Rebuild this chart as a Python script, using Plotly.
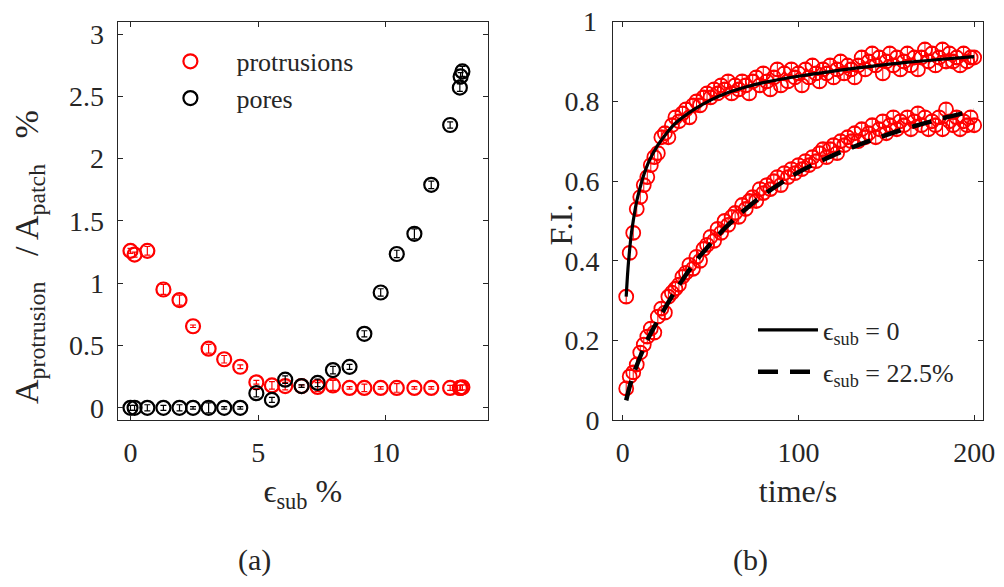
import plotly.graph_objects as go

# ---------------- panel (a) data ----------------
eps_sub = [0.0, 0.16, 0.66, 1.29, 1.92, 2.45, 3.06, 3.67, 4.30, 4.93, 5.54, 6.06, 6.70,
           7.33, 7.93, 8.58, 9.16, 9.80, 10.43, 11.12, 11.78, 12.52, 12.90, 12.93, 13.00]
protrusions = [1.26, 1.23, 1.26, 0.95, 0.865, 0.655, 0.475, 0.39, 0.33, 0.205, 0.18, 0.175, 0.175,
               0.168, 0.18, 0.16, 0.16, 0.16, 0.16, 0.16, 0.16, 0.16, 0.16, 0.16, 0.165]
protrusions_err = [0.02, 0.02, 0.035, 0.04, 0.04, 0.01, 0.035, 0.03, 0.015, 0.015, 0.03, 0.03, 0.01,
                   0.035, 0.04, 0.01, 0.03, 0.01, 0.035, 0.01, 0.01, 0.02, 0.02, 0.02, 0.02]
pores = [0.0, 0.0, 0.0, 0.0, 0.0, 0.0, 0.0, 0.0, 0.0, 0.118, 0.064, 0.226, 0.175,
         0.20, 0.303, 0.329, 0.594, 0.926, 1.235, 1.397, 1.79, 2.27, 2.57, 2.66, 2.70]
pores_err = [0.02, 0.02, 0.025, 0.02, 0.025, 0.01, 0.04, 0.01, 0.01, 0.03, 0.02, 0.03, 0.01,
             0.03, 0.03, 0.02, 0.025, 0.03, 0.03, 0.04, 0.03, 0.025, 0.03, 0.03, 0.04]

# ---------------- panel (b) data ----------------
time_s = list(range(2, 202, 2))
fi_eps0 = [0.31, 0.42, 0.47, 0.53, 0.56, 0.59, 0.61, 0.64, 0.66, 0.67,
           0.71, 0.72, 0.71, 0.74, 0.76, 0.75, 0.77, 0.78, 0.76, 0.79,
           0.80, 0.79, 0.81, 0.82, 0.81, 0.83, 0.82, 0.84, 0.83, 0.85,
           0.82, 0.84, 0.83, 0.85, 0.84, 0.82, 0.85, 0.86, 0.84, 0.87,
           0.85, 0.83, 0.86, 0.88, 0.84, 0.87, 0.85, 0.88, 0.86, 0.87,
           0.84, 0.88, 0.86, 0.89, 0.87, 0.85, 0.88, 0.87, 0.89, 0.86,
           0.88, 0.90, 0.87, 0.89, 0.88, 0.86, 0.89, 0.91, 0.88, 0.90,
           0.92, 0.89, 0.91, 0.87, 0.90, 0.92, 0.89, 0.91, 0.88, 0.90,
           0.92, 0.89, 0.91, 0.88, 0.91, 0.93, 0.90, 0.92, 0.89, 0.91,
           0.93, 0.90, 0.92, 0.90, 0.91, 0.89, 0.92, 0.90, 0.91, 0.91]
fi_eps225 = [0.08, 0.11, 0.12, 0.14, 0.17, 0.19, 0.21, 0.23, 0.22, 0.26,
             0.28, 0.27, 0.31, 0.32, 0.33, 0.34, 0.36, 0.37, 0.39, 0.38,
             0.41, 0.40, 0.43, 0.44, 0.46, 0.45, 0.48, 0.47, 0.50, 0.49,
             0.51, 0.52, 0.51, 0.54, 0.53, 0.55, 0.56, 0.55, 0.58, 0.57,
             0.59, 0.58, 0.60, 0.61, 0.59, 0.62, 0.61, 0.63, 0.62, 0.64,
             0.63, 0.65, 0.64, 0.66, 0.65, 0.67, 0.68, 0.66, 0.68, 0.69,
             0.67, 0.70, 0.69, 0.71, 0.70, 0.72, 0.70, 0.73, 0.71, 0.72,
             0.74, 0.71, 0.73, 0.75, 0.72, 0.74, 0.76, 0.73, 0.75, 0.74,
             0.76, 0.73, 0.75, 0.77, 0.74, 0.76, 0.73, 0.75, 0.74, 0.76,
             0.73, 0.78, 0.75, 0.74, 0.76, 0.73, 0.75, 0.74, 0.76, 0.74]
fi_err = 0.015

fit_t_eps0 = [2, 3, 4, 5, 6, 8, 10, 12, 15, 20, 25, 30, 40, 50, 60, 70, 80, 100, 120, 140, 160, 180, 200]
fit_eps0 = [0.31, 0.38, 0.43, 0.47, 0.50, 0.55, 0.585, 0.615, 0.65, 0.69, 0.72, 0.745, 0.778, 0.803,
            0.822, 0.836, 0.847, 0.863, 0.876, 0.887, 0.897, 0.905, 0.912]
fit_t_eps225 = [2, 5, 10, 15, 20, 30, 40, 50, 60, 70, 80, 90, 100, 120, 140, 160, 180, 200]
fit_eps225 = [0.05, 0.10, 0.16, 0.21, 0.25, 0.325, 0.39, 0.443, 0.49, 0.53, 0.565, 0.595, 0.622,
              0.665, 0.70, 0.73, 0.755, 0.777]
fi_ticks = [0, 0.2, 0.4, 0.6, 0.8, 1]
fi_ticktext = ["0", "0.2", "0.4", "0.6", "0.8", ""]   # top label "1" drawn as annotation below

FONT = "Liberation Serif, Times New Roman, DejaVu Serif, serif"
AX = "#262626"
RED = "#FF0000"
TICK = 28
LABEL = 32
LEG = 26

fig = go.Figure()

# panel (a)
fig.add_trace(go.Scatter(
    x=eps_sub, y=protrusions, mode="markers", name="protrusions",
    marker=dict(symbol="circle-open", size=14, color=RED, line=dict(width=2.2, color=RED)),
    error_y=dict(type="data", array=protrusions_err, color=RED, thickness=1.2, width=3),
    xaxis="x", yaxis="y", legend="legend"))
fig.add_trace(go.Scatter(
    x=eps_sub, y=pores, mode="markers", name="pores",
    marker=dict(symbol="circle-open", size=14, color="black", line=dict(width=2.2, color="black")),
    error_y=dict(type="data", array=pores_err, color="black", thickness=1.2, width=3),
    xaxis="x", yaxis="y", legend="legend"))

# panel (b)
for vals in (fi_eps0, fi_eps225):
    fig.add_trace(go.Scatter(
        x=time_s, y=vals, mode="markers", showlegend=False,
        marker=dict(symbol="circle-open", size=14, color=RED, line=dict(width=1.8, color=RED)),
        error_y=dict(type="constant", value=fi_err, color=RED, thickness=1, width=3),
        xaxis="x2", yaxis="y2"))
fig.add_trace(go.Scatter(
    x=fit_t_eps0, y=fit_eps0, mode="lines", name="ϵ<sub>sub</sub> = 0",
    line=dict(color="black", width=3.2, shape="spline"), legendgroup="g1",
    xaxis="x2", yaxis="y2", legend="legend2"))
fig.add_trace(go.Scatter(
    x=fit_t_eps225, y=fit_eps225, mode="lines", name="ϵ<sub>sub</sub> = 22.5%",
    line=dict(color="black", width=4.5, dash="20px,12px", shape="spline"), legendgroup="g2",
    xaxis="x2", yaxis="y2", legend="legend2"))

axis_common = dict(showline=True, linecolor=AX, linewidth=1, mirror="ticks", ticks="inside",
                   ticklen=5, tickcolor=AX, tickwidth=1, showgrid=False, zeroline=False,
                   ticklabelstandoff=7,
                   tickfont=dict(family=FONT, size=TICK, color=AX))

fig.update_layout(
    width=1004, height=587,
    margin=dict(l=0, r=0, t=0, b=0),
    paper_bgcolor="white", plot_bgcolor="white",
    font=dict(family=FONT, color=AX),
    xaxis=dict(domain=[0.1106, 0.4838], range=[-0.5, 14], tickvals=[0, 5, 10], anchor="y",
               title=dict(text="ϵ<sub>sub</sub> %", font=dict(family=FONT, size=LABEL, color=AX), standoff=12),
               **axis_common),
    yaxis=dict(domain=[0.2789, 0.9796], range=[-0.1, 3.1], tickvals=[0, 0.5, 1, 1.5, 2, 2.5, 3],
               ticktext=["0", "0.5", "1", "1.5", "2", "2.5", "3"], anchor="x",
               **axis_common),
    xaxis2=dict(domain=[0.6099, 0.9828], range=[-5.5, 205], tickvals=[0, 100, 200], anchor="y2",
                title=dict(text="time/s", font=dict(family=FONT, size=LABEL, color=AX), standoff=12),
                **axis_common),
    yaxis2=dict(domain=[0.2789, 0.9796], range=[0, 1], tickvals=fi_ticks,
                ticktext=fi_ticktext, anchor="x2",
                **axis_common),
    legend=dict(x=0.1375, y=0.951, xanchor="left", yanchor="top", bgcolor="rgba(0,0,0,0)",
                font=dict(family=FONT, size=LEG, color=AX), tracegroupgap=0, itemwidth=82),
    legend2=dict(x=0.751, y=0.479, xanchor="left", yanchor="top", bgcolor="rgba(0,0,0,0)",
                 font=dict(family=FONT, size=LEG, color=AX), tracegroupgap=5, itemwidth=60),
    annotations=[
        dict(text="1", x=0.5955, y=fi_ticks[-1], xref="paper", yref="y2", xanchor="right",
             yanchor="middle", showarrow=False, font=dict(family=FONT, size=TICK, color=AX)),
        dict(text="A<sub>protrusion</sub>   / A<sub>patch</sub>   %", textangle=-90,
             x=0.021, y=0.5656, xref="paper", yref="paper", xanchor="center", yanchor="middle",
             showarrow=False, font=dict(family=FONT, size=34, color=AX)),
        dict(text="F.I.", textangle=-90,
             x=0.5578, y=0.6235, xref="paper", yref="paper", xanchor="center", yanchor="middle",
             showarrow=False, font=dict(family=FONT, size=LABEL, color=AX)),
        dict(text="(a)", x=0.248, y=0.034, xref="paper", yref="paper", showarrow=False,
             xanchor="center", yanchor="middle", font=dict(family=FONT, size=30, color=AX)),
        dict(text="(b)", x=0.748, y=0.034, xref="paper", yref="paper", showarrow=False,
             xanchor="center", yanchor="middle", font=dict(family=FONT, size=30, color=AX)),
    ],
)

fig.write_html("out.html")
